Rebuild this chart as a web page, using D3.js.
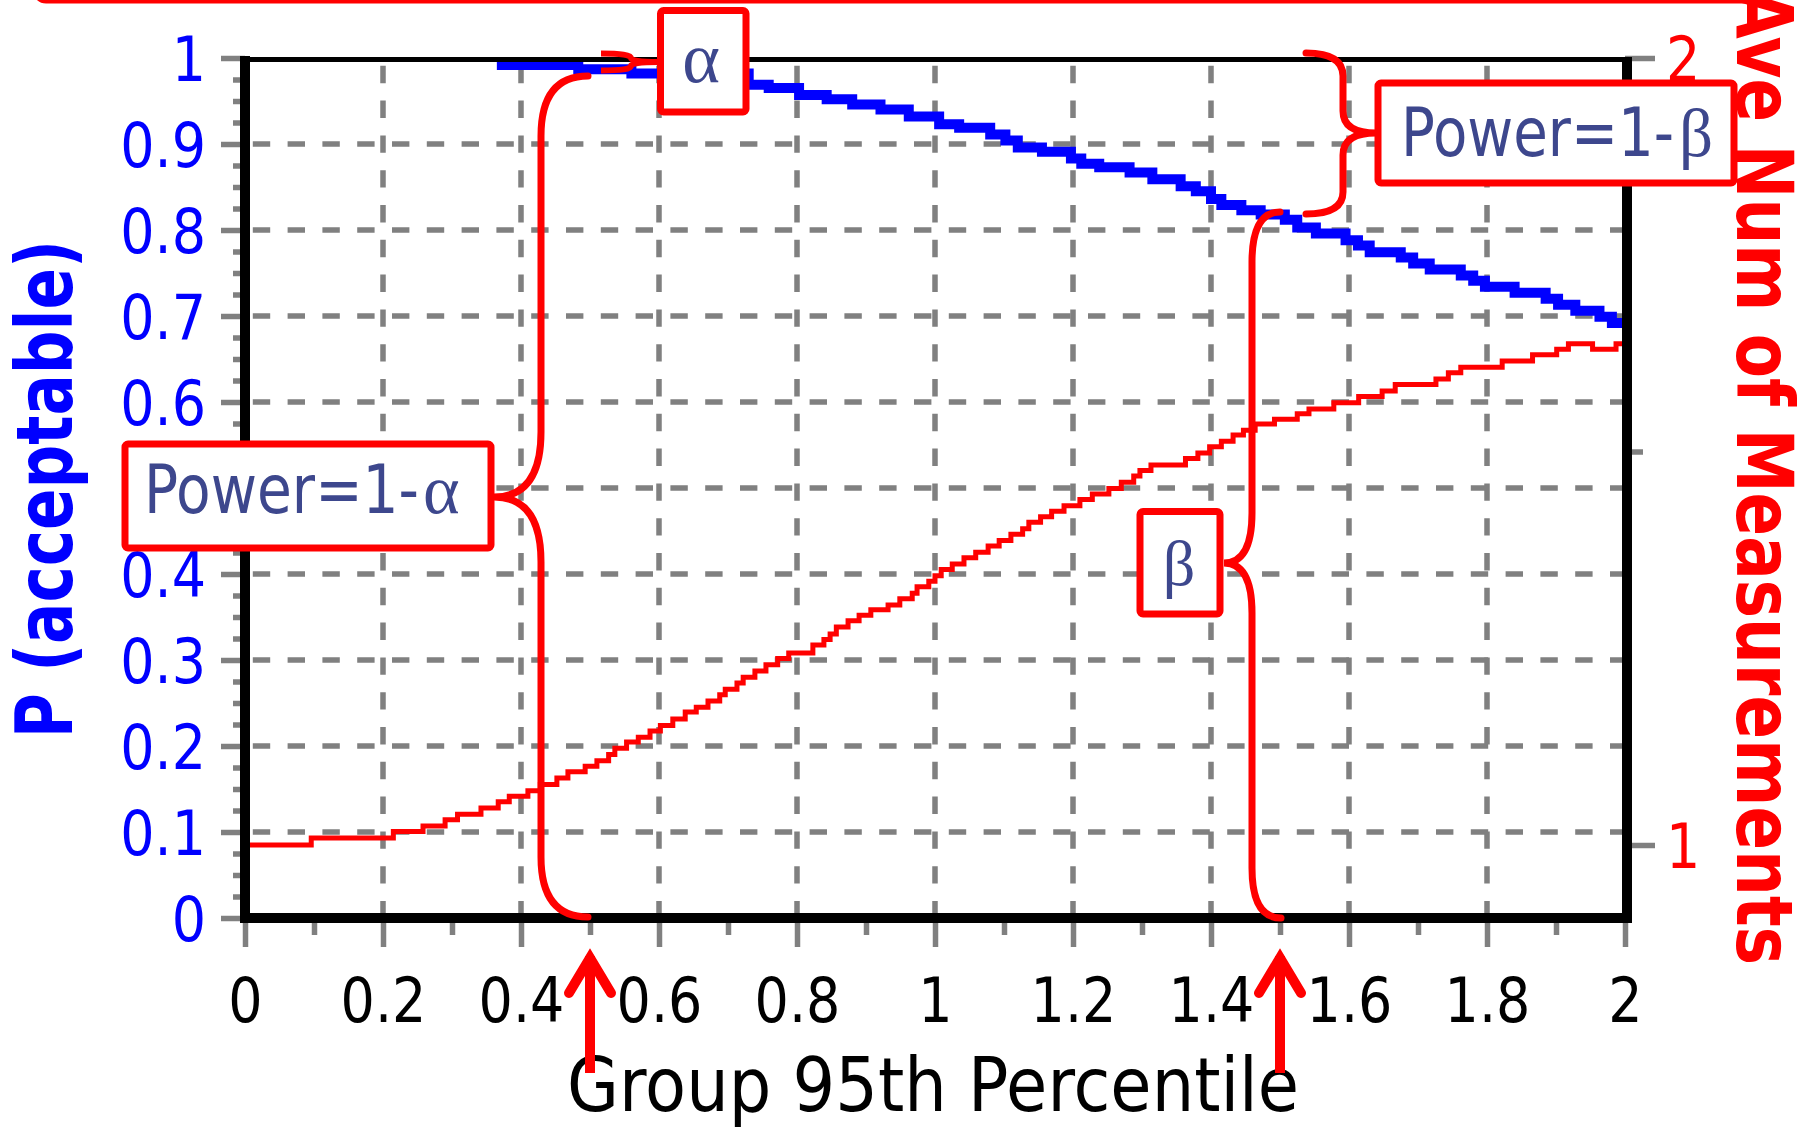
<!DOCTYPE html>
<html><head><meta charset="utf-8">
<script src="https://cdn.jsdelivr.net/npm/d3@7"></script>
<style>
html,body{margin:0;padding:0;background:#fff;}
svg{display:block;}
</style></head>
<body>
<svg id="chart" width="1807" height="1131"></svg>
<script>
// ---------------- data ----------------
const xTicks = [0, 0.2, 0.4, 0.6, 0.8, 1, 1.2, 1.4, 1.6, 1.8, 2];
const xTickLabels = ["0", "0.2", "0.4", "0.6", "0.8", "1", "1.2", "1.4", "1.6", "1.8", "2"];
const xMinorTicks = [0.1, 0.3, 0.5, 0.7, 0.9, 1.1, 1.3, 1.5, 1.7, 1.9];
const yTicks = [0, 0.1, 0.2, 0.3, 0.4, 0.5, 0.6, 0.7, 0.8, 0.9, 1];
const yTickLabels = ["0", "0.1", "0.2", "0.3", "0.4", "0.5", "0.6", "0.7", "0.8", "0.9", "1"];
const y2Ticks = [1, 2];
const y2TickLabels = ["1", "2"];
const y2MinorTicks = [1.5];
const xGrid = [0.2, 0.4, 0.6, 0.8, 1, 1.2, 1.4, 1.6, 1.8];
const yGrid = [0.1, 0.2, 0.3, 0.4, 0.5, 0.6, 0.7, 0.8, 0.9];

const xTitle = "Group 95th Percentile";
const yTitle = "P (acceptable)";
const y2Title = "Ave Num of Measurements";

// P(acceptable) – blue, left axis  [group 95th percentile, probability]
const pAcceptable = [
  [0.365, 0.992], [0.483, 0.987], [0.560, 0.982], [0.730, 0.969], [0.759, 0.965],
  [0.803, 0.957], [0.843, 0.952], [0.880, 0.946], [0.921, 0.940], [0.962, 0.932],
  [1.006, 0.923], [1.035, 0.919], [1.080, 0.911], [1.102, 0.904], [1.120, 0.896],
  [1.155, 0.891], [1.197, 0.883], [1.212, 0.877], [1.238, 0.873], [1.282, 0.867],
  [1.315, 0.859], [1.356, 0.851], [1.378, 0.845], [1.400, 0.836], [1.415, 0.829],
  [1.444, 0.823], [1.472, 0.818], [1.507, 0.812], [1.525, 0.803], [1.552, 0.796],
  [1.595, 0.788], [1.613, 0.782], [1.630, 0.774], [1.675, 0.768], [1.693, 0.761],
  [1.717, 0.754], [1.762, 0.747], [1.780, 0.741], [1.797, 0.734], [1.840, 0.727],
  [1.885, 0.720], [1.903, 0.713], [1.928, 0.706], [1.963, 0.699], [1.981, 0.692],
  [2.000, 0.692]
];

// Average number of measurements – red, right axis  [group 95th percentile, count]
const aveNum = [
  [0.000, 1.000], [0.096, 1.009], [0.215, 1.017], [0.258, 1.024], [0.290, 1.032],
  [0.308, 1.039], [0.342, 1.047], [0.367, 1.055], [0.383, 1.062], [0.410, 1.069],
  [0.428, 1.077], [0.452, 1.085], [0.468, 1.093], [0.493, 1.100], [0.510, 1.107],
  [0.527, 1.115], [0.536, 1.123], [0.553, 1.131], [0.570, 1.137], [0.587, 1.145],
  [0.602, 1.152], [0.620, 1.160], [0.638, 1.169], [0.654, 1.175], [0.671, 1.183],
  [0.688, 1.191], [0.696, 1.198], [0.713, 1.206], [0.722, 1.213], [0.739, 1.221],
  [0.755, 1.229], [0.772, 1.237], [0.788, 1.244], [0.823, 1.254], [0.839, 1.261],
  [0.848, 1.268], [0.857, 1.277], [0.874, 1.285], [0.890, 1.292], [0.907, 1.299],
  [0.932, 1.305], [0.949, 1.313], [0.967, 1.320], [0.974, 1.328], [0.991, 1.335],
  [1.000, 1.342], [1.009, 1.350], [1.025, 1.357], [1.042, 1.365], [1.059, 1.372],
  [1.077, 1.380], [1.093, 1.387], [1.110, 1.395], [1.127, 1.402], [1.136, 1.410],
  [1.153, 1.417], [1.169, 1.424], [1.187, 1.431], [1.210, 1.439], [1.228, 1.446],
  [1.252, 1.453], [1.270, 1.461], [1.288, 1.469], [1.297, 1.476], [1.313, 1.483],
  [1.363, 1.491], [1.381, 1.498], [1.398, 1.506], [1.415, 1.513], [1.432, 1.521],
  [1.447, 1.527], [1.464, 1.535], [1.492, 1.541], [1.525, 1.548], [1.542, 1.554],
  [1.578, 1.562], [1.614, 1.570], [1.648, 1.577], [1.667, 1.585], [1.726, 1.592],
  [1.744, 1.600], [1.762, 1.607], [1.822, 1.615], [1.866, 1.623], [1.901, 1.630],
  [1.918, 1.637], [1.953, 1.630], [1.987, 1.637], [2.000, 1.637]
];

// annotation markers (data x positions)
const arrowAt = [0.5, 1.5];

// ---------------- drawing ----------------
const W = 1807, H = 1131;
const svg = d3.select("#chart");
svg.append("rect").attr("width", W).attr("height", H).attr("fill", "#fff");

const x = d3.scaleLinear().domain([0, 2]).range([245, 1625]);
const y = d3.scaleLinear().domain([0, 1]).range([918, 58]);
const yR = d3.scaleLinear().domain([1, 2]).range([845, 58]);

const SANS = "'DejaVu Sans', Verdana, sans-serif";
const SERIF = "'Liberation Serif', 'DejaVu Serif', serif";
const NAVY = "#3d478d";
const GRAY = "#808080";

function squash(sel, f) {
  sel.each(function () {
    const L = this.getComputedTextLength();
    d3.select(this).attr("textLength", L * f).attr("lengthAdjust", "spacingAndGlyphs");
  });
}

// grid
const grid = svg.append("g")
  .attr("stroke", GRAY).attr("stroke-width", 5.5)
  .attr("stroke-dasharray", "17.4 17.4").attr("stroke-dashoffset", 27);
grid.selectAll("line.gv").data(xGrid).join("line").attr("class", "gv")
  .attr("x1", d => x(d)).attr("x2", d => x(d)).attr("y1", y(1)).attr("y2", y(0));
grid.selectAll("line.gh").data(yGrid).join("line").attr("class", "gh")
  .attr("y1", d => y(d)).attr("y2", d => y(d)).attr("x1", x(0)).attr("x2", x(2));

// axes (ticks + labels)
function styleAxis(g, color) {
  g.select(".domain").remove();
  g.selectAll(".tick line").attr("stroke", GRAY).attr("stroke-width", 5.5);
  g.selectAll(".tick text").attr("fill", color)
    .style("font-family", SANS).style("font-size", "62px");
}

const yMinor = d3.range(0, 1.0001, 0.025).filter(v => Math.abs(v * 10 - Math.round(v * 10)) > 1e-6);
svg.append("g").attr("transform", `translate(${x(0)},0)`)
  .call(d3.axisLeft(y).tickValues(yMinor).tickSize(12).tickFormat(""))
  .call(g => styleAxis(g, "#00f"));
const gL = svg.append("g").attr("transform", `translate(${x(0)},0)`)
  .call(d3.axisLeft(y).tickValues(yTicks).tickSize(24).tickPadding(15)
    .tickFormat((d, i) => yTickLabels[i]))
  .call(g => styleAxis(g, "#0000ff"));
gL.selectAll(".tick text").attr("dy", "0.36em");
squash(gL.selectAll(".tick text"), 0.87);

svg.append("g").attr("transform", `translate(0,${y(0)})`)
  .call(d3.axisBottom(x).tickValues(xMinorTicks).tickSize(17).tickFormat(""))
  .call(g => styleAxis(g, "#000"));
const gB = svg.append("g").attr("transform", `translate(0,${y(0)})`)
  .call(d3.axisBottom(x).tickValues(xTicks).tickSize(29)
    .tickFormat((d, i) => xTickLabels[i]))
  .call(g => styleAxis(g, "#000"));
gB.selectAll(".tick text").attr("y", 104).attr("dy", null);
squash(gB.selectAll(".tick text"), 0.87);

svg.append("g").attr("transform", `translate(${x(2)},0)`)
  .call(d3.axisRight(yR).tickValues(y2MinorTicks).tickSize(18).tickFormat(""))
  .call(g => styleAxis(g, "#f00"));
const gR = svg.append("g").attr("transform", `translate(${x(2)},0)`)
  .call(d3.axisRight(yR).tickValues(y2Ticks).tickSize(30).tickPadding(11)
    .tickFormat((d, i) => y2TickLabels[i]))
  .call(g => styleAxis(g, "#ff0000"));
gR.selectAll(".tick text").attr("dy", "0.36em");
squash(gR.selectAll(".tick text"), 0.87);

// series
const lineP = d3.line().x(d => x(d[0])).y(d => y(d[1])).curve(d3.curveStepAfter);
const lineN = d3.line().x(d => x(d[0])).y(d => yR(d[1])).curve(d3.curveStepAfter);
svg.append("path").datum(aveNum).attr("d", lineN)
  .attr("fill", "none").attr("stroke", "#ff0000").attr("stroke-width", 5);
svg.append("path").datum(pAcceptable).attr("d", lineP)
  .attr("fill", "none").attr("stroke", "#0000ff").attr("stroke-width", 10);

// frame
const frame = svg.append("g").attr("stroke", "#000");
frame.append("line").attr("x1", x(0)).attr("x2", x(0)).attr("y1", 56).attr("y2", 923).attr("stroke-width", 10);
frame.append("line").attr("x1", 240).attr("x2", 1632).attr("y1", y(0)).attr("y2", y(0)).attr("stroke-width", 10);
frame.append("line").attr("x1", 1627).attr("x2", 1627).attr("y1", 57).attr("y2", 923).attr("stroke-width", 10);
frame.append("line").attr("x1", 240).attr("x2", 1632).attr("y1", 59.5).attr("y2", 59.5).attr("stroke-width", 5);

// axis titles
svg.append("text").attr("x", 933).attr("y", 1111).attr("text-anchor", "middle")
  .style("font-family", SANS).style("font-size", "74px").attr("fill", "#000").text(xTitle)
  .attr("textLength", 732).attr("lengthAdjust", "spacingAndGlyphs");
svg.append("text").attr("transform", "translate(72,489) rotate(-90)").attr("text-anchor", "middle")
  .style("font-family", SANS).style("font-size", "79px").style("font-weight", "bold")
  .attr("fill", "#0000ff").text(yTitle)
  .attr("textLength", 498).attr("lengthAdjust", "spacingAndGlyphs");
svg.append("text").attr("transform", "translate(1737,477) rotate(90)").attr("text-anchor", "middle")
  .style("font-family", SANS).style("font-size", "79px").style("font-weight", "bold")
  .attr("fill", "#ff0000").text(y2Title)
  .attr("textLength", 976).attr("lengthAdjust", "spacingAndGlyphs");

// ---------------- annotations ----------------
const ann = svg.append("g");
// top red frame edge
ann.append("rect").attr("x", 36).attr("y", -60).attr("width", 1720).attr("height", 60).attr("rx", 10)
  .attr("fill", "none").attr("stroke", "#ff0000").attr("stroke-width", 7);

function brace(d) {
  ann.append("path").attr("d", d).attr("fill", "none").attr("stroke", "#ff0000")
    .attr("stroke-width", 7).attr("stroke-linecap", "round");
}
// big alpha brace "{"
brace("M588,76 Q541,76 541,136 L541,432 Q541,497 494,497 Q541,497 541,562 L541,857 Q541,917 588,917");
// small alpha brace "}"
ann.append("path").attr("d", "M601,53.5 Q631,53.5 631,58 Q631,62 658,62 Q631,62 631,66 Q631,70.5 601,70.5")
  .attr("fill", "none").attr("stroke", "#ff0000").attr("stroke-width", 6);
// beta brace "{"
brace("M1280,212 Q1252,212 1252,262 L1252,513 Q1252,563 1224,563 Q1252,563 1252,613 L1252,868 Q1252,918 1281,918");
// power=1-beta brace "}"
brace("M1306,53 Q1343,53 1343,76 L1343,111 Q1343,133 1376,133 Q1343,133 1343,155 L1343,192 Q1343,214 1306,214");

function box(x0, y0, w, h) {
  ann.append("rect").attr("x", x0).attr("y", y0).attr("width", w).attr("height", h).attr("rx", 3)
    .attr("fill", "#fff").attr("stroke", "#ff0000").attr("stroke-width", 7);
}
function powerLabel(px, baseline, len, greekX, greek, size, gsize) {
  const t = ann.append("text").attr("y", baseline).attr("fill", NAVY);
  t.append("tspan").attr("x", px).style("font-family", SANS).style("font-size", size + "px")
    .text("Power=1-").attr("textLength", len).attr("lengthAdjust", "spacingAndGlyphs");
  t.append("tspan").attr("x", greekX).style("font-family", SERIF).style("font-size", gsize + "px")
    .text(greek);
}
// alpha box
box(660.5, 10.5, 85.5, 101.5);
ann.append("text").attr("x", 701).attr("y", 82).attr("text-anchor", "middle")
  .style("font-family", SERIF).style("font-size", "72px").attr("fill", NAVY).text("α");
// Power=1-alpha
box(125, 444, 366, 104);
powerLabel(144, 513, 275, 423, "α", 67, 70);
// beta
box(1140, 511.5, 80, 102.5);
ann.append("text").attr("x", 1179).attr("y", 585).attr("text-anchor", "middle")
  .style("font-family", SERIF).style("font-size", "64px").attr("fill", NAVY).text("β");
// Power=1-beta
box(1378, 83, 356, 100);
powerLabel(1401, 156, 273, 1679, "β", 67, 67);

// arrows
arrowAt.forEach(v => {
  const ax = x(v);
  ann.append("line").attr("x1", ax).attr("x2", ax).attr("y1", 1073).attr("y2", 956)
    .attr("stroke", "#ff0000").attr("stroke-width", 10);
  ann.append("polyline").attr("points", `${ax - 21},993 ${ax},958 ${ax + 21},993`)
    .attr("fill", "none").attr("stroke", "#ff0000").attr("stroke-width", 10)
    .attr("stroke-linecap", "round").attr("stroke-linejoin", "miter");
});
</script>
</body></html>
